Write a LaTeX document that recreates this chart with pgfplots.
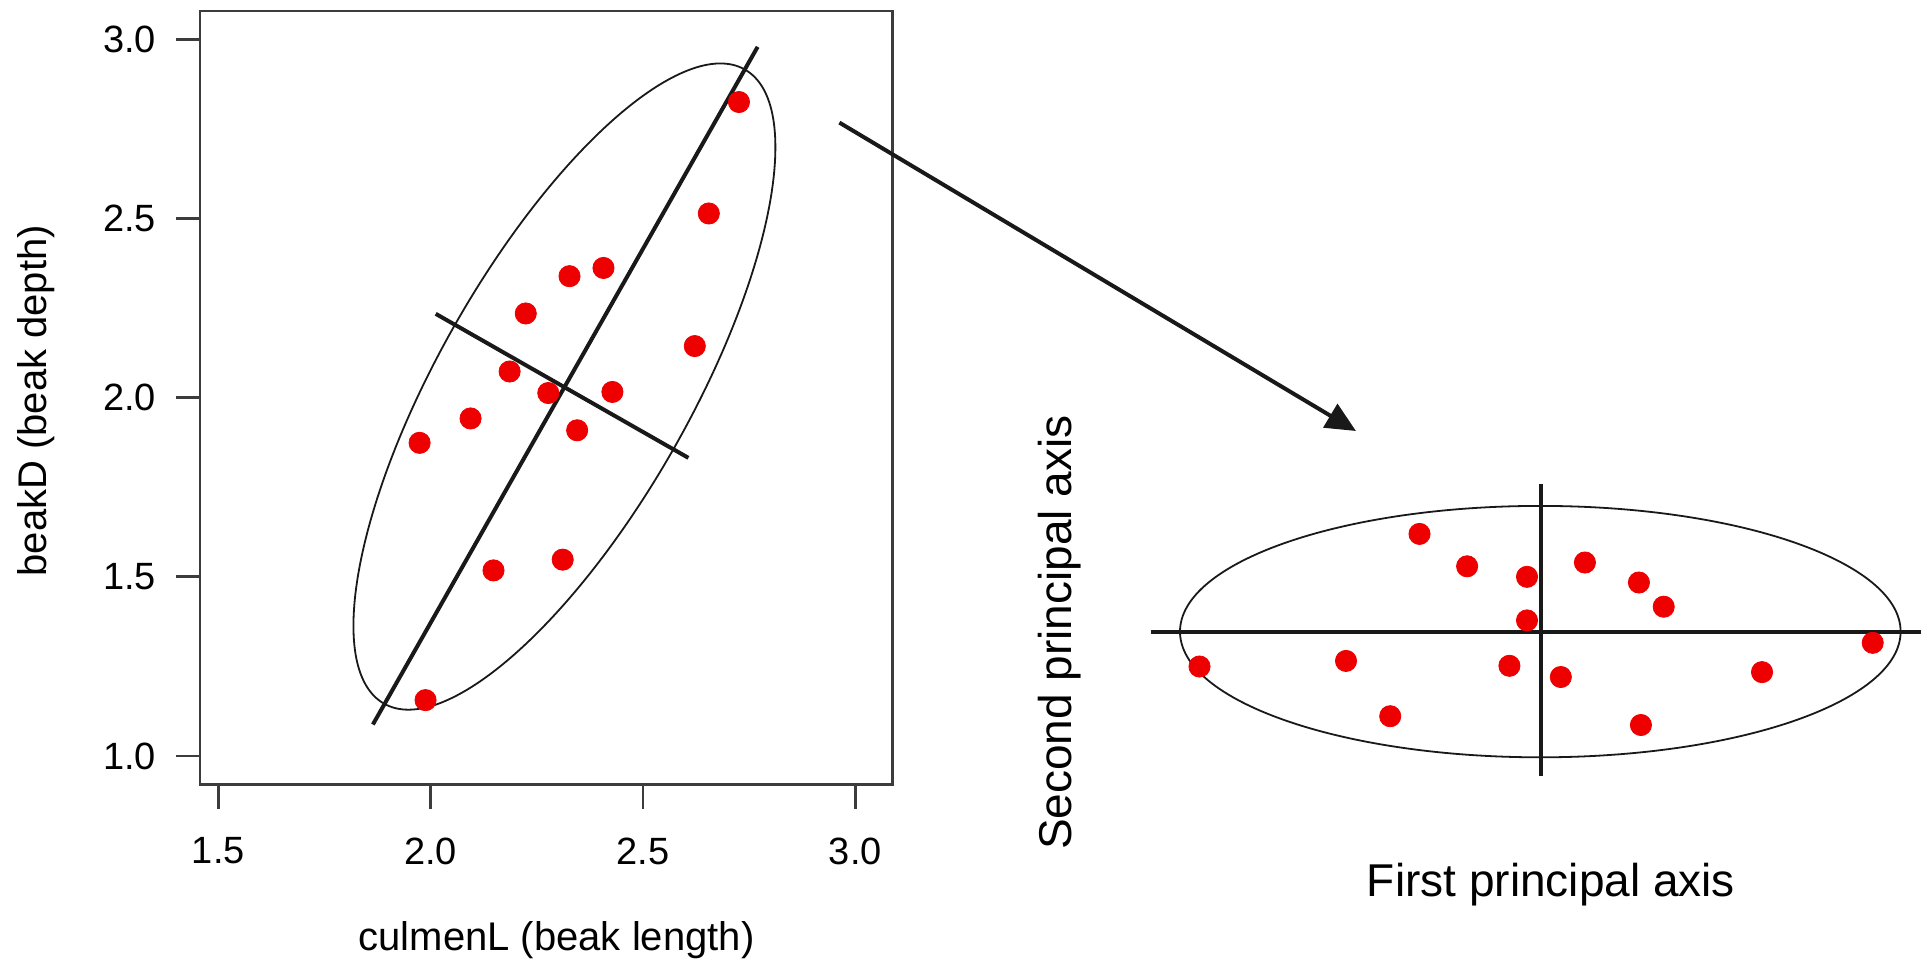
\documentclass[border=0pt]{standalone}
\usepackage{pgfplots}
\pgfplotsset{compat=1.18}
\usepackage{fontspec}
\setmainfont{Liberation Sans}
\usetikzlibrary{arrows.meta}
\definecolor{ptred}{RGB}{238,0,0}
\definecolor{boxgray}{RGB}{60,60,60}
\definecolor{lineblk}{RGB}{25,25,25}

\pgfplotstableread{
x y
2.726 2.825
2.655 2.514
2.407 2.362
2.327 2.339
2.224 2.235
2.622 2.144
2.186 2.073
2.277 2.013
2.428 2.016
2.094 1.942
2.345 1.909
1.974 1.874
2.148 1.518
2.311 1.548
1.988 1.156
}\beaktable

\pgfplotstableread{
u v
-1.208 0.977
-0.732 0.653
-0.133 0.548
0.446 0.691
0.986 0.491
1.234 0.249
-0.133 0.112
-3.408 -0.349
-1.943 -0.293
-0.309 -0.342
0.205 -0.454
2.217 -0.405
3.324 -0.112
-1.501 -0.846
1.006 -0.934
}\pctable

\begin{document}
\begin{tikzpicture}[font=\fontsize{19}{23}\selectfont]
\path[use as bounding box] (0,0) rectangle (960.5pt,-488pt);

\begin{axis}[
  at={(100pt,-392.25pt)}, anchor=south west,
  scale only axis, width=346.15pt, height=386.75pt,
  xmin=1.4569, xmax=3.0871, ymin=0.9205, ymax=3.079,
  axis line style={boxgray, line width=1.4pt},
  xtick={1.5,2,2.5,3}, ytick={1,1.5,2,2.5,3},
  tick align=outside, tick pos=left,
  major tick length=12pt,
  tick style={boxgray, line width=1.4pt},
  /pgf/number format/assume math mode=true,
  xticklabel style={yshift=-11pt, /pgf/number format/.cd, fixed, fixed zerofill, precision=1},
  yticklabel style={xshift=-6.5pt, /pgf/number format/.cd, fixed, fixed zerofill, precision=1},
]
\addplot[only marks, mark=*, mark size=5.3pt, mark options={fill=ptred, draw=ptred}] table[x=x, y=y] {\beaktable};
\addplot[lineblk, line width=2pt] coordinates {(1.864,1.088) (2.770,2.979)};
\addplot[lineblk, line width=2pt] coordinates {(2.012,2.234) (2.607,1.832)};
\draw[lineblk, line width=0.9pt] (axis cs:2.315,2.031) ellipse [x radius=182.4pt, y radius=62.85pt, rotate=60.35];
\end{axis}

\begin{axis}[
  at={(570.15pt,-395.8pt)}, anchor=south west,
  scale only axis, width=392.5pt, height=160pt,
  xmin=-4, xmax=3.85, ymin=-1.6, ymax=1.6,
  hide axis,
]
\addplot[only marks, mark=*, mark size=5.3pt, mark options={fill=ptred, draw=ptred}] table[x=u, y=v] {\pctable};
\addplot[lineblk, line width=2pt] coordinates {(-3.89,0) (3.85,0)};
\addplot[lineblk, line width=2pt] coordinates {(0.01,1.476) (0.01,-1.444)};
\draw[lineblk, line width=0.9pt] (axis cs:0,0) ellipse [x radius=180.15pt, y radius=62.85pt];
\end{axis}

\draw[lineblk, line width=2pt, -{Triangle[length=15pt,width=13.5pt]}] (419.7pt,-61.3pt) -- (678pt,-215.5pt);

\node[font=\fontsize{20}{24}\selectfont] at (278.3pt,-470pt) {culmenL (beak length)};
\node[rotate=90, font=\fontsize{20}{24}\selectfont] at (17.9pt,-200.4pt) {beakD (beak depth)};
\node[rotate=90, font=\fontsize{23}{27}\selectfont] at (529.85pt,-316.25pt) {Second principal axis};
\node[font=\fontsize{23}{27}\selectfont] at (775.5pt,-442.5pt) {First principal axis};
\end{tikzpicture}
\end{document}
